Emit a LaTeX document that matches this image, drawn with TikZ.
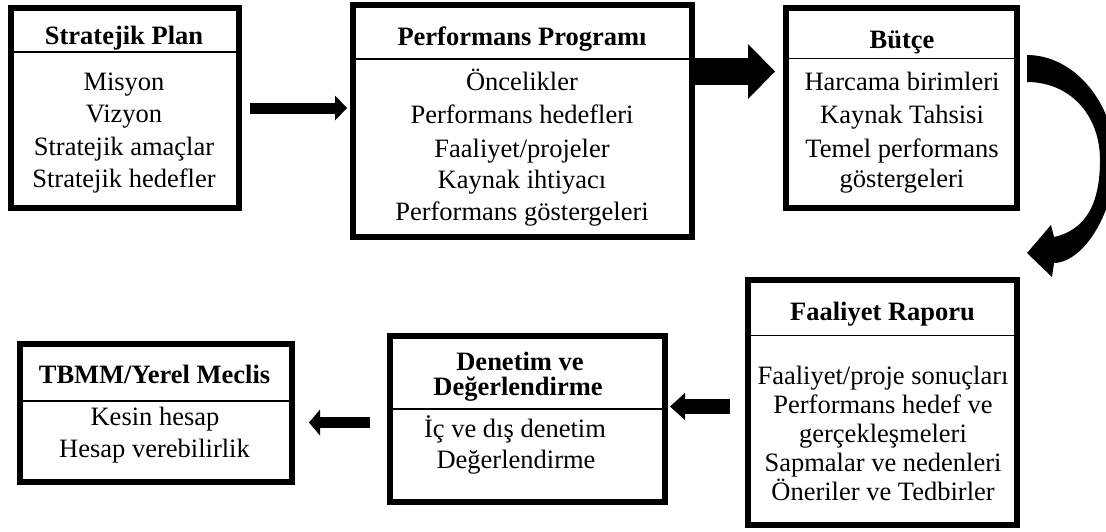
\documentclass[tikz,border=0pt]{standalone}
\usepackage{fontspec}
\setmainfont{Liberation Serif}
\usetikzlibrary{arrows.meta}
\begin{document}
\begin{tikzpicture}[x=1pt,y=-1pt,
  box/.style={draw=black, line width=6pt, inner sep=0pt, fill=white},
  sepline/.style={line width=1.5pt},
  txt/.style={anchor=base, inner sep=0pt, font=\fontsize{26.5}{32}\selectfont},
  ttl/.style={anchor=base, inner sep=0pt, font=\fontsize{26.5}{32}\selectfont\bfseries},
  flow/.style={line width=#1, draw=black}]
\useasboundingbox (0,0) rectangle (1106,531);

% boxes
\node[box, minimum width=228pt, minimum height=200pt] (b1) at (125,108) {};
\node[box, minimum width=339pt, minimum height=232pt] (b2) at (522.5,121) {};
\node[box, minimum width=231pt, minimum height=200pt] (b3) at (901.5,108) {};
\node[box, minimum width=269pt, minimum height=245pt] (b4) at (882.5,402.5) {};
\node[box, minimum width=275pt, minimum height=166pt] (b5) at (527.5,419) {};
\node[box, minimum width=272pt, minimum height=138pt] (b6) at (156,413) {};

% separators
\draw[sepline] (b1.west |- 0,52) -- (b1.east |- 0,52);
\draw[sepline] (b2.west |- 0,59) -- (b2.east |- 0,59);
\draw[sepline] (b3.west |- 0,58.5) -- (b3.east |- 0,58.5);
\draw[sepline] (b4.west |- 0,335.5) -- (b4.east |- 0,335.5);
\draw[sepline] (b5.west |- 0,409) -- (b5.east |- 0,409);
\draw[sepline] (b6.west |- 0,401) -- (b6.east |- 0,401);

% box 1
\node[ttl] (t1) at (124,44) {Stratejik Plan};
\node[txt] (t1a) at (124,90) {Misyon};
\node[txt] (t1b) at (124,122) {Vizyon};
\node[txt] (t1c) at (124,155) {Stratejik amaçlar};
\node[txt] (t1d) at (124,187) {Stratejik hedefler};

% box 2
\node[ttl] (t2) at (522,45) {Performans Programı};
\node[txt] (t2a) at (522,90) {Öncelikler};
\node[txt] (t2b) at (522,123) {Performans hedefleri};
\node[txt] (t2c) at (522,157) {Faaliyet/projeler};
\node[txt] (t2d) at (522,188) {Kaynak ihtiyacı};
\node[txt] (t2e) at (522,220) {Performans göstergeleri};

% box 3
\node[ttl] (t3) at (902,48) {Bütçe};
\node[txt] (t3a) at (902,90) {Harcama birimleri};
\node[txt] (t3b) at (902,123) {Kaynak Tahsisi};
\node[txt] (t3c) at (902,157) {Temel performans};
\node[txt] (t3d) at (902,187) {göstergeleri};

% box 4
\node[ttl] (t4) at (882.5,320) {Faaliyet Raporu};
\node[txt] (t4a) at (883,384) {Faaliyet/proje sonuçları};
\node[txt] (t4b) at (883,413) {Performans hedef ve};
\node[txt] (t4c) at (883,442) {gerçekleşmeleri};
\node[txt] (t4d) at (883,471) {Sapmalar ve nedenleri};
\node[txt] (t4e) at (883,500) {Öneriler ve Tedbirler};

% box 5
\node[ttl] (t5) at (520,370) {Denetim ve};
\node[ttl] (t5b) at (518,395) {Değerlendirme};
\node[txt] (t5c) at (515,437) {İç ve dış denetim};
\node[txt] (t5d) at (516,468) {Değerlendirme};

% box 6
\node[ttl] (t6) at (154.5,383) {TBMM/Yerel Meclis};
\node[txt] (t6a) at (155,425) {Kesin hesap};
\node[txt] (t6b) at (154.5,457) {Hesap verebilirlik};

% straight connectors
\draw[flow=11pt, -{Triangle[length=12pt,width=25pt,line width=0pt]}, shorten <=8pt, shorten >=3pt]
  (b1.east) -- (b1.east -| b2.west);
\draw[flow=27pt, -{Triangle[length=27pt,width=55pt,line width=0pt]}, shorten >=8pt]
  (b2.east |- 0,71.5) -- (b3.west |- 0,71.5);
\draw[flow=15pt, -{Triangle[length=15pt,width=27pt,line width=0pt]}, shorten <=15pt, shorten >=2pt]
  (b4.west |- 0,406.5) -- (b5.east |- 0,406.5);
\draw[flow=11pt, -{Triangle[length=11pt,width=26pt,line width=0pt]}, shorten <=17pt, shorten >=14pt]
  (b5.west |- 0,422.5) -- (b6.east |- 0,422.5);

% curved connector from Butce to Faaliyet Raporu
\fill[black] (1027,55) .. controls (1070,55) and (1110,95) .. (1116,155)
  .. controls (1116,210) and (1085,262) .. (1054,263)
  -- (1052,277) -- (1027,253) -- (1051,225) -- (1054,237)
  .. controls (1085,230) and (1100,205) .. (1100,160)
  .. controls (1100,115) and (1070,82) .. (1027,82) -- cycle;
\end{tikzpicture}
\end{document}
